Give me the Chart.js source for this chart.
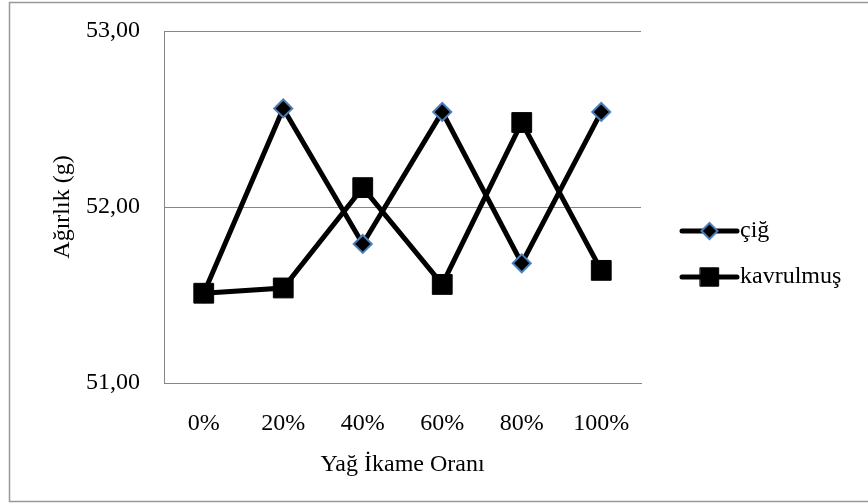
<!DOCTYPE html>
<html>
<head>
<meta charset="utf-8">
<script src="https://cdn.jsdelivr.net/npm/chart.js@4/dist/chart.umd.min.js"></script>
<style>
  body { margin: 0; background: #fff; }
  #wrap { width: 868px; height: 504px; }
</style>
</head>
<body>
<div id="wrap"><canvas id="chart" width="868" height="504"></canvas></div>
<script>
// Data
const categories = ['0%', '20%', '40%', '60%', '80%', '100%'];
const cigValues = [51.51, 52.56, 51.79, 52.54, 51.68, 52.54];
const kavrulmusValues = [51.51, 51.54, 52.11, 51.56, 52.48, 51.64];
const yTicks = [51, 52, 53];

const serif = "'Liberation Serif', 'Times New Roman', serif";
const gridGrey = '#868686';

// grey frame around the whole chart
const framePlugin = {
    id: 'frame',
    beforeDraw(chart) {
        const ctx = chart.ctx;
        ctx.save();
        ctx.fillStyle = '#fff';
        ctx.fillRect(0, 0, chart.width, chart.height);
        ctx.strokeStyle = '#999';
        ctx.lineWidth = 1.5;
        ctx.strokeRect(9.5, 2.5, chart.width, 499);
        ctx.restore();
    }
};

// legend drawn as "line + marker + text", like the office chart
const lineLegend = {
    id: 'lineLegend',
    afterDraw(chart) {
        const ctx = chart.ctx;
        const x0 = 682, x1 = 737, textX = 740;
        const rows = [231, 277];
        chart.data.datasets.forEach((ds, i) => {
            const y = rows[i];
            ctx.save();
            ctx.strokeStyle = ds.borderColor;
            ctx.lineWidth = ds.borderWidth;
            ctx.lineCap = 'round';
            ctx.beginPath();
            ctx.moveTo(x0, y);
            ctx.lineTo(x1, y);
            ctx.stroke();
            ctx.fillStyle = ds.pointBackgroundColor;
            ctx.strokeStyle = ds.pointBorderColor;
            ctx.lineWidth = ds.pointBorderWidth;
            Chart.helpers.drawPoint(ctx, {
                pointStyle: ds.pointStyle,
                radius: ds.legendRadius,
                borderWidth: ds.pointBorderWidth
            }, (x0 + x1) / 2, y);
            ctx.fillStyle = '#000';
            ctx.font = '24px ' + serif;
            ctx.textAlign = 'left';
            ctx.textBaseline = 'middle';
            ctx.fillText(ds.label, textX, y);
            ctx.restore();
        });
    }
};

new Chart(document.getElementById('chart'), {
    type: 'line',
    data: {
        labels: categories,
        datasets: [
            {
                label: 'çiğ',
                data: cigValues,
                borderColor: '#000',
                borderWidth: 5,
                pointStyle: 'rectRot',
                pointRadius: 9,
                legendRadius: 8,
                pointBackgroundColor: '#000',
                pointBorderColor: '#4a7ebb',
                pointBorderWidth: 2,
                order: 1
            },
            {
                label: 'kavrulmuş',
                data: kavrulmusValues,
                borderColor: '#000',
                borderWidth: 5,
                pointStyle: 'rect',
                pointRadius: 14,
                legendRadius: 13,
                pointBackgroundColor: '#000',
                pointBorderColor: '#000',
                pointBorderWidth: 1,
                order: 0
            }
        ]
    },
    options: {
        responsive: false,
        animation: false,
        layout: { padding: { top: 31, right: 227, bottom: 0, left: 0 } },
        plugins: {
            legend: { display: false },
            tooltip: { enabled: false }
        },
        elements: { line: { tension: 0 } },
        scales: {
            x: {
                offset: true,
                grid: { display: false, drawTicks: false, offset: true },
                border: { display: true, color: gridGrey, width: 1 },
                ticks: { color: '#000', padding: 26, font: { family: serif, size: 24 } },
                title: {
                    display: true,
                    text: 'Yağ İkame Oranı',
                    color: '#000',
                    padding: { top: 0, bottom: 25 },
                    font: { family: serif, size: 24 }
                },
                afterFit(scale) { scale.height = 121; }
            },
            y: {
                min: 51,
                max: 53,
                afterBuildTicks(scale) { scale.ticks = yTicks.map(v => ({ value: v })); },
                grid: { color: gridGrey, lineWidth: 1, drawTicks: false },
                border: { display: true, color: gridGrey, width: 1 },
                ticks: {
                    color: '#000',
                    padding: 24,
                    font: { family: serif, size: 24 },
                    callback: v => v.toFixed(2).replace('.', ',')
                },
                title: {
                    display: true,
                    text: 'Ağırlık (g)',
                    color: '#000',
                    padding: { top: 48, bottom: 0 },
                    font: { family: serif, size: 24 }
                },
                afterFit(scale) {
                    scale.width = 164;
                    // keep the tick padding from pushing the plot down
                    scale.paddingTop = 0;
                    scale.paddingBottom = 0;
                }
            }
        }
    },
    plugins: [framePlugin, lineLegend]
});
</script>
</body>
</html>
